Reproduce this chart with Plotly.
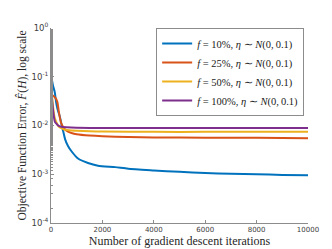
import plotly.graph_objects as go

# ---------------- data ----------------
blue_x = [0, 30, 80, 144, 200, 250, 300, 338, 380, 420, 467, 550, 661, 790, 1050, 1440, 1830,
          2500, 3000, 4000, 5000, 6000, 7000, 8000, 9000, 10000]
blue_y = [0.12, 0.09, 0.065, 0.049, 0.03, 0.022, 0.018, 0.0156, 0.0125, 0.0098, 0.0079, 0.0052,
          0.0038, 0.003, 0.0021, 0.0017, 0.0015, 0.0014, 0.0013, 0.0012, 0.00112, 0.00106,
          0.00102, 0.001, 0.00097, 0.00095]

orange_x = [0, 20, 50, 100, 150, 200, 250, 300, 350, 400, 500, 600, 800, 1000, 1500, 2000,
            3000, 4000, 6000, 8000, 10000]
orange_y = [0.055, 0.05, 0.042, 0.04, 0.038, 0.035, 0.03, 0.02, 0.014, 0.011, 0.0088, 0.0078,
            0.007, 0.0066, 0.0062, 0.006, 0.0058, 0.0057, 0.0056, 0.0056, 0.0055]

yellow_x = [0, 20, 50, 100, 150, 200, 250, 300, 400, 500, 700, 1000, 1500, 2000, 4000, 6000,
            8000, 10000]
yellow_y = [0.11, 0.06, 0.035, 0.02, 0.014, 0.012, 0.0105, 0.0095, 0.0088, 0.0083, 0.008,
            0.0078, 0.0076, 0.0075, 0.0074, 0.0074, 0.0074, 0.0074]

purple_x = [0, 20, 50, 100, 150, 200, 300, 400, 600, 1000, 2000, 4000, 6000, 8000, 10000]
purple_y = [0.09, 0.05, 0.03, 0.017, 0.012, 0.011, 0.0098, 0.0094, 0.0092, 0.009, 0.0089,
            0.0089, 0.0089, 0.0089, 0.0089]

series_names = [
    "<i>f</i> = 10%, <i>η</i> ∼ <i>N</i>(0,\u20090.1)",
    "<i>f</i> = 25%, <i>η</i> ∼ <i>N</i>(0,\u20090.1)",
    "<i>f</i> = 50%, <i>η</i> ∼ <i>N</i>(0,\u20090.1)",
    "<i>f</i> = 100%, <i>η</i> ∼ <i>N</i>(0,\u20090.1)",
]
colors = ["#0072BD", "#D95319", "#EDB120", "#7E2F8E"]

y_tickvals = [1, 0.1, 0.01, 0.001, 0.0001]
y_ticktext = ["10<sup>0</sup>", "10<sup>-1</sup>", "10<sup>-2</sup>", "10<sup>-3</sup>", "10<sup>-4</sup>"]
x_tickvals = [0, 2000, 4000, 6000, 8000, 10000]
x_ticktext = ["0", "2000", "4000", "6000", "8000", "10000"]

# ---------------- figure ----------------
fig = go.Figure()
for xs, ys, name, c in zip([blue_x, orange_x, yellow_x, purple_x],
                           [blue_y, orange_y, yellow_y, purple_y], series_names, colors):
    fig.add_trace(go.Scatter(x=xs, y=ys, mode="lines", name=name,
                             line=dict(color=c, width=2, shape="spline", smoothing=0.6)))

serif = "Liberation Serif"
fig.update_layout(
    width=332, height=249,
    margin=dict(l=43, r=32, t=20, b=26),
    paper_bgcolor="white", plot_bgcolor="white",
    font=dict(family=serif, color="#262626"),
    showlegend=True,
    legend=dict(x=0.985, y=1.0, xanchor="right", yanchor="top",
                bgcolor="white", bordercolor="#8c8c8c", borderwidth=1,
                font=dict(family=serif, size=10.5, color="#1a1a1a"),
                tracegroupgap=0, itemwidth=30),
)
fig.update_xaxes(
    range=[0, 10000], tickvals=x_tickvals, ticktext=x_ticktext, showgrid=False, zeroline=False,
    showline=True, linecolor="#8c8c8c", linewidth=1, ticks="inside", ticklen=3,
    tickcolor="#8c8c8c", tickfont=dict(size=7, color="#404040", family="DejaVu Sans"),
    title=dict(text="Number of gradient descent iterations", font=dict(size=12, family=serif),
               standoff=2),
)
fig.update_yaxes(
    type="log", range=[-4, 0], tickvals=y_tickvals, ticktext=y_ticktext,
    showgrid=False, zeroline=False, showline=True, linecolor="#8c8c8c", linewidth=1,
    ticks="inside", ticklen=3, tickcolor="#8c8c8c",
    tickfont=dict(size=8.5, color="#404040", family="DejaVu Sans"),
    minor=dict(ticks="inside", ticklen=2, tickcolor="#8c8c8c", showgrid=False),
    title=dict(text="Objective Function Error, <i>F̂</i>(<i>H</i>), log scale",
               font=dict(size=11.5, family=serif), standoff=2),
)

fig.write_html("out.html")
